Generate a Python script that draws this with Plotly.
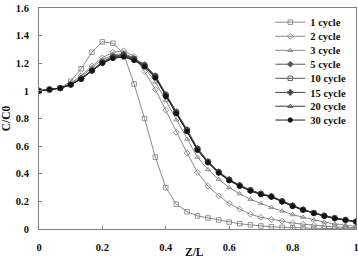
import plotly.graph_objects as go

Z_L = [0, 0.033, 0.067, 0.1, 0.133, 0.167, 0.2, 0.233, 0.267, 0.3, 0.333, 0.367, 0.4,
       0.433, 0.467, 0.5, 0.533, 0.567, 0.6, 0.633, 0.667, 0.7, 0.733, 0.767, 0.8,
       0.833, 0.867, 0.9, 0.933, 0.967, 1.0]

c1 = [1.0, 1.01, 1.02, 1.07, 1.16, 1.28, 1.355, 1.345, 1.27, 1.05, 0.80, 0.52, 0.30,
      0.18, 0.125, 0.095, 0.08, 0.065, 0.05, 0.038, 0.03, 0.022, 0.016, 0.012, 0.009,
      0.007, 0.005, 0.004, 0.003, 0.003, 0.002]
c2 = [1.0, 1.01, 1.02, 1.055, 1.11, 1.18, 1.24, 1.28, 1.29, 1.25, 1.14, 1.01, 0.86,
      0.70, 0.55, 0.41, 0.31, 0.24, 0.185, 0.144, 0.107, 0.085, 0.07, 0.057, 0.043,
      0.035, 0.027, 0.02, 0.015, 0.012, 0.01]
c3 = [1.0, 1.01, 1.02, 1.05, 1.10, 1.17, 1.225, 1.26, 1.27, 1.24, 1.17, 1.065, 0.93,
      0.79, 0.65, 0.52, 0.43, 0.36, 0.30, 0.255, 0.215, 0.185, 0.156, 0.13, 0.104,
      0.085, 0.066, 0.05, 0.037, 0.027, 0.02]
c5 = [1.0, 1.01, 1.02, 1.045, 1.09, 1.15, 1.21, 1.25, 1.265, 1.235, 1.19, 1.11, 0.975,
      0.85, 0.72, 0.585, 0.49, 0.415, 0.36, 0.318, 0.283, 0.257, 0.238, 0.203, 0.17,
      0.141, 0.117, 0.097, 0.08, 0.067, 0.055]
c10 = [1.0, 1.01, 1.02, 1.045, 1.088, 1.148, 1.207, 1.246, 1.26, 1.232, 1.186, 1.106, 0.97,
       0.846, 0.716, 0.58, 0.487, 0.412, 0.357, 0.316, 0.281, 0.255, 0.236, 0.201, 0.168,
       0.14, 0.116, 0.096, 0.079, 0.066, 0.054]
c15 = [1.0, 1.01, 1.02, 1.045, 1.087, 1.147, 1.204, 1.242, 1.255, 1.228, 1.182, 1.102, 0.967,
       0.842, 0.712, 0.577, 0.485, 0.41, 0.355, 0.314, 0.279, 0.253, 0.234, 0.199, 0.167,
       0.139, 0.115, 0.095, 0.078, 0.065, 0.053]
c20 = [1.0, 1.01, 1.02, 1.045, 1.086, 1.146, 1.202, 1.238, 1.25, 1.224, 1.178, 1.098, 0.963,
       0.838, 0.708, 0.573, 0.482, 0.407, 0.352, 0.312, 0.277, 0.251, 0.233, 0.198, 0.166,
       0.138, 0.114, 0.094, 0.077, 0.064, 0.052]
c30 = [1.0, 1.01, 1.02, 1.045, 1.085, 1.145, 1.2, 1.235, 1.245, 1.22, 1.175, 1.095, 0.96,
       0.835, 0.705, 0.57, 0.48, 0.405, 0.35, 0.31, 0.276, 0.25, 0.232, 0.197, 0.165,
       0.137, 0.113, 0.093, 0.076, 0.064, 0.052]

names = ["1 cycle", "2 cycle", "3 cycle", "5 cycle", "10 cycle", "15 cycle", "20 cycle", "30 cycle"]
series = [c1, c2, c3, c5, c10, c15, c20, c30]
symbols = ["square-open", "diamond-open", "triangle-up-open", "diamond", "square-open",
           "cross", "triangle-up-open", "circle"]
line_colors = ["#8a8a8a", "#8a8a8a", "#8a8a8a", "#555555", "#555555", "#444444", "#3a3a3a", "#222222"]
marker_colors = ["#7a7a7a", "#7a7a7a", "#7a7a7a", "#555555", "#444444", "#444444", "#333333", "#111111"]
# legend row centres in container fractions (from bottom)
legend_y = [0.915, 0.861, 0.807, 0.754, 0.700, 0.646, 0.593, 0.540]

FONT = "Liberation Serif"

fig = go.Figure()
for i, (nm, ys) in enumerate(zip(names, series)):
    lg = "legend" if i == 0 else f"legend{i+1}"
    fig.add_trace(go.Scatter(
        x=Z_L, y=ys, name=nm, mode="lines+markers",
        line=dict(color=line_colors[i], width=1),
        marker=dict(symbol=symbols[i], size=4.5, color=marker_colors[i],
                    line=dict(color=marker_colors[i], width=0.8)),
        legend=lg,
    ))

layout_legends = {}
for i, yy in enumerate(legend_y):
    key = "legend" if i == 0 else f"legend{i+1}"
    layout_legends[key] = dict(
        xref="container", yref="container",
        x=0.755, xanchor="left", y=yy, yanchor="middle",
        bgcolor="rgba(0,0,0,0)", borderwidth=0,
        font=dict(family=FONT, size=10.5, color="#111", weight="bold"),
        itemwidth=30,
    )

fig.update_layout(
    width=358, height=261,
    margin=dict(l=39, r=2, t=8, b=32, autoexpand=False),
    paper_bgcolor="white", plot_bgcolor="white",
    font=dict(family=FONT, size=10, color="#111", weight="bold"),
    showlegend=True,
    xaxis=dict(
        range=[0, 1], tickvals=[0, 0.2, 0.4, 0.6, 0.8, 1],
        ticktext=["0", "0.2", "0.4", "0.6", "0.8", "1"],
        showgrid=False, zeroline=False, showline=True, linecolor="#808080", linewidth=1,
        mirror=True, ticks="inside", ticklen=3, tickcolor="#808080",
        ticklabelstandoff=8, automargin=False, ticklabeloverflow="allow",
        tickfont=dict(family=FONT, size=10.5, color="#111", weight="bold"),
    ),
    yaxis=dict(
        range=[0, 1.6], tickvals=[0, 0.2, 0.4, 0.6, 0.8, 1, 1.2, 1.4, 1.6],
        ticktext=["0", "0.2", "0.4", "0.6", "0.8", "1", "1.2", "1.4", "1.6"],
        showgrid=False, zeroline=False, showline=True, linecolor="#808080", linewidth=1,
        mirror=True, ticks="inside", ticklen=3, tickcolor="#808080",
        ticklabelstandoff=7, automargin=False, ticklabeloverflow="allow",
        tickfont=dict(family=FONT, size=10.5, color="#111", weight="bold"),
        title=dict(text="C/C0", font=dict(family=FONT, size=11.5, color="#111", weight="bold"),
                   standoff=3),
    ),
    annotations=[dict(
        text="Z/L", xref="paper", yref="paper", x=0.49, y=-0.1425,
        xanchor="center", yanchor="bottom", showarrow=False,
        font=dict(family=FONT, size=11.5, color="#111", weight="bold"),
    )],
    **layout_legends,
)

fig.write_html("out.html")
